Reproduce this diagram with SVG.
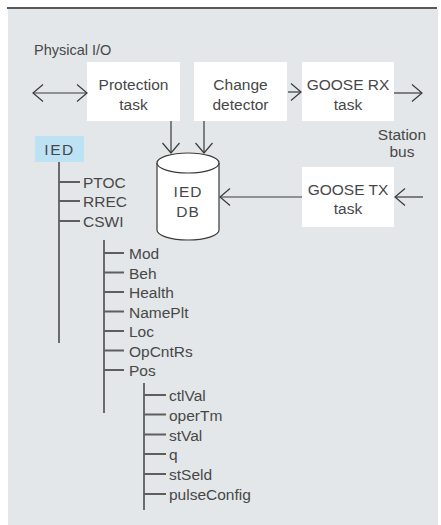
<svg xmlns="http://www.w3.org/2000/svg" width="441" height="525" viewBox="0 0 441 525">
<defs>
<style>
text{font-family:"Liberation Sans",Arial,sans-serif;fill:#474747;font-size:15.5px}
.c{text-anchor:middle}
.box{fill:#ffffff;stroke:none}
.arr{stroke:#3a3a3a;stroke-width:1.2;fill:none}
.tree{stroke:#5e5e5e;stroke-width:1.8;fill:none}
</style>
<marker id="ah" markerUnits="userSpaceOnUse" markerWidth="14" markerHeight="20" viewBox="-11 -10 14 20" refX="0" refY="0" orient="auto-start-reverse">
<path d="M-10,-8.5 L0,0 L-10,8.5" fill="none" stroke="#3a3a3a" stroke-width="1.2"/>
</marker>
</defs>
<rect x="0" y="0" width="441" height="525" fill="#ffffff"/>
<rect x="8" y="9" width="430" height="516" fill="#e4e7ea"/>
<line x1="7" y1="8" x2="437" y2="8" stroke="#222" stroke-width="1.6"/>

<text x="34" y="55" style="font-size:14.5px">Physical I/O</text>

<g id="protection">
<rect class="box" x="87" y="62" width="93" height="59"/>
<text class="c" x="133.5" y="89.5">Protection</text>
<text class="c" x="133.5" y="109.5">task</text>
</g>
<g id="change">
<rect class="box" x="194" y="62" width="93" height="59"/>
<text class="c" x="240.5" y="89.5">Change</text>
<text class="c" x="240.5" y="109.5">detector</text>
</g>
<g id="gooserx">
<rect class="box" x="302" y="62" width="92" height="59"/>
<text class="c" x="348" y="89.5">GOOSE RX</text>
<text class="c" x="348" y="109.5">task</text>
</g>
<g id="goosetx">
<rect class="box" x="302" y="167" width="92" height="60"/>
<text class="c" x="348" y="195">GOOSE TX</text>
<text class="c" x="348" y="214">task</text>
</g>
<g id="stationbus">
<text class="c" x="402" y="140">Station</text>
<text class="c" x="402" y="157">bus</text>
</g>
<g id="db">
<path d="M157,163 L157,230 A31,10 0 0 0 219,230 L219,163" fill="#ffffff" stroke="#3a3a3a" stroke-width="1.2"/>
<ellipse cx="188" cy="163" rx="31" ry="10" fill="#ffffff" stroke="#3a3a3a" stroke-width="1.2"/>
<text class="c" x="188" y="197" style="letter-spacing:1px">IED</text>
<text class="c" x="188" y="217" style="letter-spacing:1px">DB</text>
</g>

<g id="connectors">
<line class="arr" x1="33" y1="93" x2="87" y2="93" marker-start="url(#ah)" marker-end="url(#ah)"/>
<line class="arr" x1="288" y1="92" x2="301" y2="92" marker-end="url(#ah)"/>
<line class="arr" x1="394" y1="93" x2="422" y2="93" marker-end="url(#ah)"/>
<line class="arr" x1="171" y1="121" x2="171" y2="153" marker-end="url(#ah)"/>
<line class="arr" x1="204" y1="121" x2="204" y2="153" marker-end="url(#ah)"/>
<line class="arr" x1="302" y1="197" x2="220" y2="197" marker-end="url(#ah)"/>
<line class="arr" x1="423" y1="197" x2="395" y2="197" marker-end="url(#ah)"/>
</g>

<g id="ied">
<rect x="35" y="136" width="49" height="26" fill="#bde2f4"/>
<text class="c" x="59.5" y="155" style="letter-spacing:1.5px">IED</text>
</g>

<g id="tree">
<path class="tree" d="M59,162 V343 M59,182 H80 M59,201 H80 M59,221 H80"/>
<path class="tree" d="M104,240 V413 M104,253 H124 M104,272.5 H124 M104,292 H124 M104,311.5 H124 M104,331 H124 M104,350.5 H124 M104,370 H124"/>
<path class="tree" d="M144,383 V510 M144,395 H166 M144,414.5 H166 M144,434.5 H166 M144,454 H166 M144,474 H166 M144,494 H166"/>
</g>
<g id="labels1">
<text x="83" y="187.5">PTOC</text>
<text x="83" y="207">RREC</text>
<text x="83" y="227">CSWI</text>
</g>
<g id="labels2">
<text x="129" y="259">Mod</text>
<text x="129" y="278.5">Beh</text>
<text x="129" y="298">Health</text>
<text x="129" y="317.5">NamePlt</text>
<text x="129" y="337">Loc</text>
<text x="129" y="356.5">OpCntRs</text>
<text x="129" y="376">Pos</text>
</g>
<g id="labels3">
<text x="169" y="401">ctlVal</text>
<text x="169" y="420.5">operTm</text>
<text x="169" y="440.5">stVal</text>
<text x="169" y="460">q</text>
<text x="169" y="480">stSeld</text>
<text x="169" y="500">pulseConfig</text>
</g>
</svg>
